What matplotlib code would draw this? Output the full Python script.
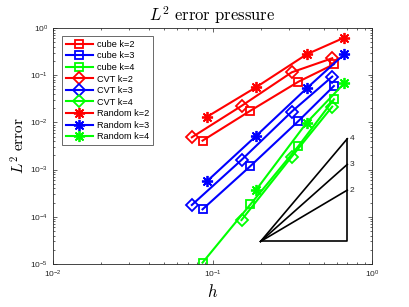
import numpy as np
import matplotlib
matplotlib.use("Agg")
import matplotlib.pyplot as plt

plt.rcParams['font.family'] = ['Liberation Sans', 'DejaVu Sans']
plt.rcParams['mathtext.fontset'] = 'custom'
plt.rcParams['mathtext.rm'] = 'Liberation Sans'
plt.rcParams['mathtext.it'] = 'Liberation Sans:italic'
plt.rcParams['mathtext.bf'] = 'Liberation Sans:bold'

# ---- data ----
h_cube = [0.0866, 0.173, 0.346, 0.577]
cube_k2 = [0.0041, 0.0177, 0.0728, 0.170]
cube_k3 = [1.44e-4, 1.19e-3, 0.0107, 0.059]
cube_k4 = [1.07e-5, 1.84e-4, 3.16e-3, 0.0308]

h_cvt = [0.0742, 0.152, 0.314, 0.563]
cvt_k2 = [0.00483, 0.0223, 0.115, 0.228]
cvt_k3 = [1.78e-4, 1.60e-3, 0.0169, 0.093]
cvt_k4 = [np.nan, 8.55e-5, 1.88e-3, 0.0215]

h_rand = [0.0927, 0.1875, 0.390, 0.670]
rand_k2 = [0.0132, 0.0554, 0.277, 0.623]
rand_k3 = [5.73e-4, 5.15e-3, 0.0528, 0.277]
rand_k4 = [np.nan, 3.7e-4, 9.9e-3, 0.0673]

tri_h = [0.2, 0.7]
tri_base = 3e-5
tri_orders = [2, 3, 4]

series = [
    ("cube k=2", h_cube, cube_k2, 'r', 's'),
    ("cube k=3", h_cube, cube_k3, 'b', 's'),
    ("cube k=4", h_cube, cube_k4, '#00ff00', 's'),
    ("CVT k=2", h_cvt, cvt_k2, 'r', 'D'),
    ("CVT k=3", h_cvt, cvt_k3, 'b', 'D'),
    ("CVT k=4", h_cvt, cvt_k4, '#00ff00', 'D'),
    ("Random k=2", h_rand, rand_k2, 'r', (8, 2, 0)),
    ("Random k=3", h_rand, rand_k3, 'b', (8, 2, 0)),
    ("Random k=4", h_rand, rand_k4, '#00ff00', (8, 2, 0)),
]

fig = plt.figure(figsize=(4.10, 3.07), dpi=100)
ax = fig.add_axes([0.1293, 0.140, 0.7780, 0.769])

handles = []
for name, hx, ey, c, m in series:
    ms = 6 if m == 's' else (6.5 if m == 'D' else 8)
    ln, = ax.loglog(hx, ey, color=c, marker=m, markersize=ms, lw=1.5,
                    markerfacecolor='none', markeredgecolor=c, mew=1.3,
                    label=name)
    handles.append(ln)

# slope triangle
x0, x1 = tri_h
for k in tri_orders:
    ax.plot([x0, x1], [tri_base, tri_base * (x1 / x0) ** k], color='k', lw=1.2)
ax.plot([x0, x1, x1], [tri_base, tri_base, tri_base * (x1 / x0) ** max(tri_orders)],
        color='k', lw=1.2)
for k in tri_orders:
    ax.text(x1 * 1.04, tri_base * (x1 / x0) ** k, str(k), fontsize=6,
            ha='left', va='center', color='0.15')

ax.set_xlim(1e-2, 1)
ax.set_ylim(1e-5, 1)
ax.tick_params(which='both', direction='in', top=True, right=True,
               labelsize=6, colors='0.15', width=0.5)
ax.tick_params(which='major', length=3)
ax.tick_params(which='minor', length=1.6)
for s in ax.spines.values():
    s.set_color('0.15')
    s.set_linewidth(0.6)

t = ax.set_title(r'$L^2\ \mathrm{error\ pressure}$', fontsize=12, pad=5)
t.set_math_fontfamily('cm')
xl = ax.set_xlabel(r'$h$', fontsize=12, labelpad=2)
xl.set_math_fontfamily('cm')
yl = ax.set_ylabel(r'$L^2\ \mathrm{error}$', fontsize=11, labelpad=2)
yl.set_math_fontfamily('cm')

leg = ax.legend(handles=handles, loc='upper left', fontsize=6.6,
                bbox_to_anchor=(0.028, 0.965), frameon=True, fancybox=False,
                edgecolor='0.15', handlelength=3.0, handletextpad=0.4,
                labelspacing=0.28, borderpad=0.4, borderaxespad=0)
leg.get_frame().set_linewidth(0.6)

fig.savefig("out.png", dpi=100)
